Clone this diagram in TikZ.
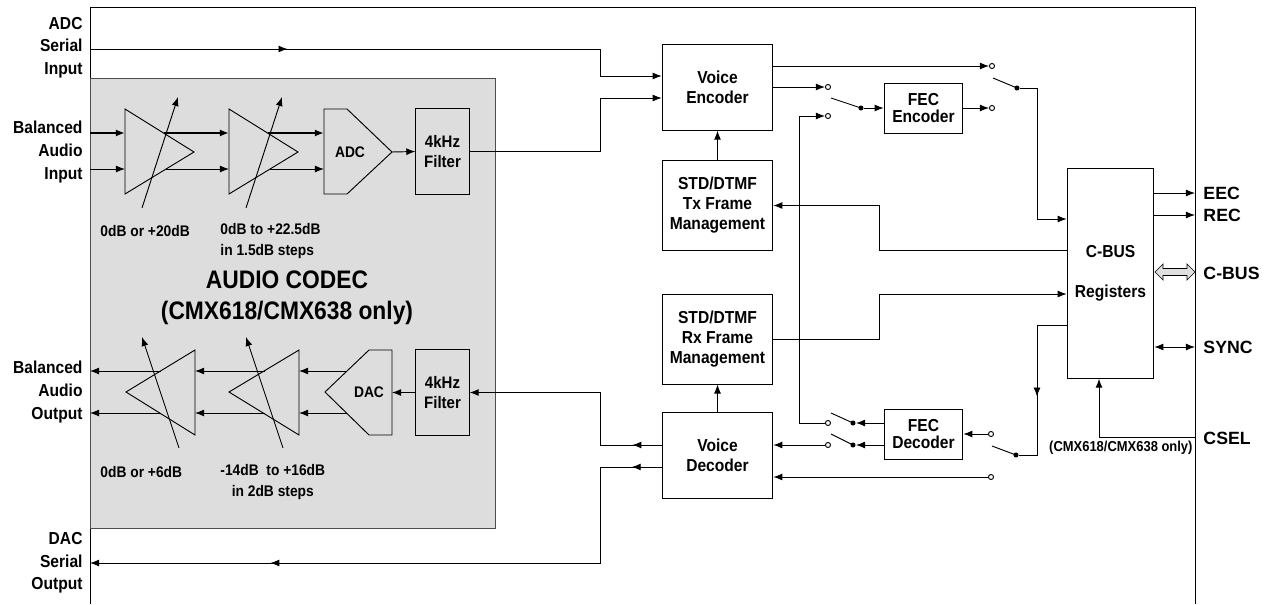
\documentclass[tikz,border=0pt]{standalone}
\usepackage{fontspec}
\setmainfont{Liberation Sans}[FakeStretch=0.9]
\newfontfamily\pinfont{Liberation Sans}
\usetikzlibrary{arrows.meta,decorations.markings,calc}
\definecolor{codecgray}{RGB}{221,221,221}
\tikzset{
  >={Latex[length=6.8pt,width=5.2pt]},
  blk/.style={draw, align=center, inner sep=0pt, font=\bfseries\fontsize{13}{15}\selectfont},
  lbl/.style={align=right, anchor=east, inner sep=0pt, font=\bfseries\fontsize{13}{17}\selectfont},
  pinlbl/.style={anchor=west, inner sep=0pt, font=\pinfont\bfseries\fontsize{13.3}{16}\selectfont},
  gain/.style={align=left, anchor=west, inner sep=0pt, font=\bfseries\fontsize{11.5}{15.75}\selectfont},
  contact/.style={circle, draw, fill=white, inner sep=0pt, minimum size=3.8pt},
  pole/.style={circle, fill, inner sep=0pt, minimum size=3.8pt},
  midarr/.style={postaction={decorate, decoration={markings, mark=at position #1 with {\arrow{Latex[length=6.8pt,width=5.2pt]}}}}},
}
\begin{document}
\begin{tikzpicture}[x=0.75pt,y=-0.75pt,line width=0.7pt]
    \useasboundingbox (0,0) rectangle (1279,604);
    % chip outline and codec area
    \draw (90,604) -- (90,7) -- (1195,7) -- (1195,604);
    \filldraw[fill=codecgray, draw=black!70] (90,78) rectangle (495,528);
    \node[font=\bfseries\fontsize{19}{23}\selectfont, align=center] (codec) at (287,298) {AUDIO CODEC\\(CMX618/CMX638 only)};

    % blocks
    \node[blk, minimum width=83pt, minimum height=64pt] (venc) at (717.5,87.5) {Voice\\Encoder};
    \node[blk, minimum width=83pt, minimum height=67pt] (txfm) at (717.5,205.5) {STD/DTMF\\Tx Frame\\Management};
    \node[blk, minimum width=83pt, minimum height=67.5pt] (rxfm) at (717.5,339) {STD/DTMF\\Rx Frame\\Management};
    \node[blk, minimum width=83pt, minimum height=64pt] (vdec) at (717.5,455.5) {Voice\\Decoder};
    \node[blk, font=\bfseries\fontsize{13}{13}\selectfont, minimum width=59pt, minimum height=37.5pt] (fenc) at (923.5,108) {FEC\\Encoder};
    \node[blk, font=\bfseries\fontsize{13}{13}\selectfont, minimum width=59pt, minimum height=37.5pt] (fdec) at (923.5,434) {FEC\\Decoder};
    \node[blk, minimum width=65pt, minimum height=157pt] (cbus) at (1110.5,273.5) {C-BUS\\[15pt]Registers};
    \node[blk, font=\bfseries\fontsize{12.5}{15}\selectfont, minimum width=40pt, minimum height=64pt] (filt1) at (442.5,151.5) {4kHz\\Filter};
    \node[blk, font=\bfseries\fontsize{12.5}{15}\selectfont, minimum width=40pt, minimum height=64pt] (filt2) at (442.5,392.5) {4kHz\\Filter};

    % converters
    \draw (324,109) -- (347,109) -- (392,152) -- (347,194) -- (324,194) -- cycle;
    \node[font=\bfseries\fontsize{11.5}{14}\selectfont] (adc) at (350,152) {ADC};
    \draw (392,350) -- (369,350) -- (325,392) -- (369,435) -- (392,435) -- cycle;
    \node[font=\bfseries\fontsize{11.5}{14}\selectfont] (dac) at (369,392) {DAC};

    % gain stages
    \draw (125,109) -- (194,152) -- (125,194) -- cycle;
    \draw (229,109) -- (298,152) -- (229,194) -- cycle;
    \draw (195,350) -- (126,392) -- (195,435) -- cycle;
    \draw (299,350) -- (229,392) -- (299,435) -- cycle;
    \draw[->] (142,208) -- (178,97);
    \draw[->] (246,208) -- (282,97);
    \draw[->] (179,448) -- (142,337);
    \draw[->] (283,448) -- (246,337);

    \node[gain] (g1) at (100,231) {0dB or +20dB};
    \node[gain] (g2) at (220,241.5) {0dB to +22.5dB\\in 1.5dB steps};
    \node[gain] (g3) at (100,472) {0dB or +6dB};
    \node[gain, align=center] (g4) at (220,482) {-14dB\ \ to +16dB\\in 2dB steps};

    % pin labels, left
    \node[lbl] (adcin) at (83,47.5) {ADC\\Serial\\Input};
    \node[lbl] (audin) at (83,152) {Balanced\\Audio\\Input};
    \node[lbl] (audout) at (83,392) {Balanced\\Audio\\Output};
    \node[lbl] (dacout) at (83,563) {DAC\\Serial\\Output};

    % audio paths
    \draw[->, line width=1.3pt] (90,133) -- (125,133);
    \draw[->] (90,169) -- (125,169);
    \draw[->, line width=1.3pt] (163.5,133) -- (229,133);
    \draw[->] (166,169) -- (229,169);
    \draw[->, line width=1.3pt] (267.5,133) -- (324,133);
    \draw[->] (270,169) -- (324,169);
    \draw[->] (392,152) -- (filt1.west);
    \draw[->] (filt2.west) -- (392,392.5);
    \draw[->] (347,371) -- (299,371);
    \draw[->] (346.5,413) -- (299,413);
    \draw[->] (264.5,371) -- (195,371);
    \draw[->] (264.5,413) -- (195,413);
    \draw[->] (160.5,371) -- (90,371);
    \draw[->] (160,413) -- (90,413);

    % serial and filter links
    \coordinate (adcp) at (90,49);
    \coordinate (dacp) at (90,563);
    \draw[->, midarr=0.33] (adcp) -- (600,49) -- (600,76) -- (venc.west |- 0,76);
    \draw[->] (filt1.east) -- (600,151.5) -- (600,98) -- (venc.west |- 0,98);
    \draw[->, midarr=0.12] (vdec.west |- 0,445) -- (600,445) -- (600,392.5) -- (filt2.east);
    \draw[->, midarr=0.045, midarr=0.73] (vdec.west |- 0,467) -- (600,467) -- (600,563) -- (dacp);

    \draw[->] (txfm.north) -- (venc.south);
    \draw[->] (vdec.north) -- (rxfm.south);

    % encoder switches
    \node[contact] (ka) at (992,66) {};
    \node[contact] (kb) at (992,108) {};
    \node[pole] (pa) at (1017,88) {};
    \node[contact] (kc) at (828,87) {};
    \node[contact] (kd) at (828,116) {};
    \node[pole] (pb) at (861,108) {};
    \draw (pa.center) -- ++(-24,-10);
    \draw (pb.center) -- ++(-30,-10);
    \draw[->] (venc.east |- ka) -- (ka);
    \draw[->] (venc.east |- kc) -- (kc);
    \draw[->] (pb) -- (fenc.west);
    \draw[->] (fenc.east) -- (kb);
    \draw[->] (pa) -- (1037,88) -- (1037,219) -- (cbus.west |- 0,219);

    % frame management links
    \draw[->] (cbus.west |- 0,250) -- (879,250) -- (879,205.5) -- (txfm.east);
    \draw[->] (rxfm.east) -- (879,339) -- (879,294) -- (cbus.west |- 0,294);

    % decoder switches
    \node[contact] (ke) at (828,423) {};
    \node[pole] (pc) at (853,423) {};
    \node[contact] (kf) at (828,445) {};
    \node[pole] (pd) at (853,445) {};
    \draw (pc.center) -- ++(-22,-10);
    \draw (pd.center) -- ++(-22,-11);
    \draw[->] (fdec.west |- pc) -- (pc);
    \draw[->] (fdec.west |- pd) -- (pd);
    \draw[->] (ke) -- (799,423) -- (799,116) -- (kd);
    \draw[->] (kf) -- (vdec.east |- kf);
    \node[contact] (kg) at (991,434) {};
    \node[pole] (pe) at (1016,455) {};
    \node[contact] (kh) at (991,477) {};
    \draw (pe.center) -- ++(-24,-9);
    \draw[->] (kg) -- (fdec.east);
    \draw[->] (kh) -- (vdec.east |- kh);
    \draw[midarr=0.57] (cbus.west |- 0,325) -- (1037,325) -- (1037,455) -- (pe);

    % pins, right
    \draw[->] (cbus.east |- 0,193) -- (1195,193);
    \draw[->] (cbus.east |- 0,215) -- (1195,215);
    \filldraw[fill=gray!25, line width=0.5pt] (1155,272) -- (1163,264) -- (1163,268.5) -- (1187,268.5) -- (1187,264) -- (1195,272) -- (1187,280) -- (1187,275.5) -- (1163,275.5) -- (1163,280) -- cycle;
    \draw[<->] (cbus.east |- 0,347) -- (1195,347);
    \draw[->] (1195,437) -- (1099,437) -- (cbus.south -| 1099,0);
    \node[pinlbl] (eec) at (1203,193) {EEC};
    \node[pinlbl] (rec) at (1203,215) {REC};
    \node[pinlbl] (cbuspin) at (1203,273) {C-BUS};
    \node[pinlbl] (sync) at (1203,347) {SYNC};
    \node[pinlbl] (csel) at (1203,438) {CSEL};
    \node[anchor=east, inner sep=0pt, font=\bfseries\fontsize{10.8}{13}\selectfont] (only) at (1193,448) {(CMX618/CMX638 only)};
\end{tikzpicture}
\end{document}
